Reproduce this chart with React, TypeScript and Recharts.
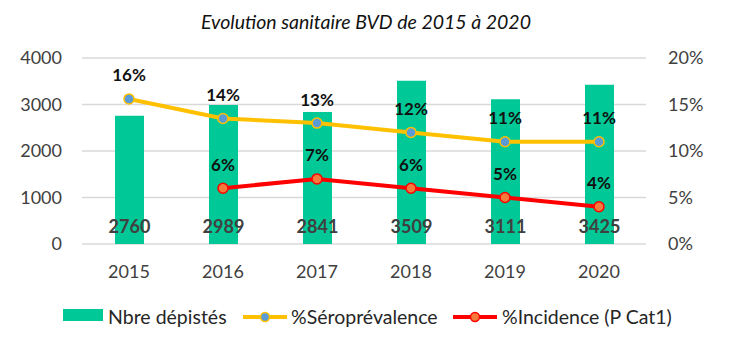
import {
  ComposedChart,
  Bar,
  Line,
  XAxis,
  YAxis,
  CartesianGrid,
  LabelList,
} from "recharts";

const years = ["2015", "2016", "2017", "2018", "2019", "2020"];
const depistes = [2760, 2989, 2841, 3509, 3111, 3425];
const seroprevalence = [15.6, 13.5, 13.0, 12.0, 11.0, 11.0];
const incidence: (number | null)[] = [null, 6.0, 7.0, 6.0, 5.0, 4.0];
const leftTicks = [0, 1000, 2000, 3000, 4000];
const rightTicks = [0, 5, 10, 15, 20];

const FONT = "Lato, 'Open Sans', sans-serif";
const GREEN = "#00C896";
const YELLOW = "#FFC000";
const RED = "#FF0000";

const data = years.map((year, i) => ({
  year,
  depistes: depistes[i],
  sero: seroprevalence[i],
  incidence: incidence[i],
}));

const BarValueLabel = (props: any) => {
  const { x, y, width, height, value } = props;
  return (
    <text
      x={x + width / 2}
      y={y + height - 18}
      textAnchor="middle"
      dominantBaseline="central"
      fontFamily={FONT}
      fontSize={18}
      fontWeight={700}
      fill="#404040"
    >
      {value}
    </text>
  );
};

const PctLabel = (props: any) => {
  const { x, y, value } = props;
  if (value == null) return null;
  return (
    <text
      x={x}
      y={y - 24}
      textAnchor="middle"
      dominantBaseline="central"
      fontFamily={FONT}
      fontSize={17}
      fontWeight={700}
      fill="#111"
    >
      {`${Math.round(value)}%`}
    </text>
  );
};

const LineIcon = ({ color, dot, left }: { color: string; dot: string; left: number }) => (
  <svg width={46} height={14} style={{ position: "absolute", left, top: 10 }}>
    <line x1={0} y1={7} x2={44} y2={7} stroke={color} strokeWidth={4} />
    <circle cx={22} cy={7} r={4.5} fill={dot} stroke={color} strokeWidth={1.5} />
  </svg>
);

export default function App() {
  const tickStyle = { fontFamily: FONT, fontSize: 18, fill: "#404040" };
  const legendText = {
    position: "absolute" as const,
    top: 4,
    fontSize: 19.5,
    color: "#262626",
    whiteSpace: "nowrap" as const,
    lineHeight: "26px",
  };

  return (
    <div
      style={{
        position: "absolute",
        left: 0,
        top: 0,
        width: 730,
        height: 357,
        background: "#fff",
        fontFamily: FONT,
      }}
    >
      <div
        style={{
          position: "absolute",
          left: 0,
          width: 732,
          top: 10,
          textAlign: "center",
          fontStyle: "italic",
          fontSize: 19.5,
          color: "#111",
        }}
      >
        Evolution sanitaire BVD de 2015 à 2020
      </div>

      <ComposedChart
        width={730}
        height={357}
        data={data}
        margin={{ top: 58, right: 14, left: 12, bottom: 83 }}
      >
        <CartesianGrid
          yAxisId="left"
          vertical={false}
          stroke="#D9D9D9"
          strokeWidth={1.5}
        />
        <XAxis
          dataKey="year"
          axisLine={false}
          tickLine={false}
          tickSize={0}
          tickMargin={21}
          height={30}
          tick={tickStyle}
        />
        <YAxis
          yAxisId="left"
          domain={[0, 4000]}
          ticks={leftTicks}
          axisLine={false}
          tickLine={false}
          tickSize={0}
          tickMargin={20}
          width={70}
          tick={tickStyle}
        />
        <YAxis
          yAxisId="right"
          orientation="right"
          domain={[0, 20]}
          ticks={rightTicks}
          tickFormatter={(v: number) => `${v}%`}
          axisLine={false}
          tickLine={false}
          tickSize={0}
          tickMargin={22}
          width={70}
          tick={tickStyle}
        />
        <Bar
          yAxisId="left"
          dataKey="depistes"
          fill={GREEN}
          barSize={29}
          isAnimationActive={false}
        >
          <LabelList dataKey="depistes" content={BarValueLabel} />
        </Bar>
        <Line
          yAxisId="right"
          dataKey="sero"
          stroke={YELLOW}
          strokeWidth={4}
          dot={{ r: 5, fill: "#5B9BD5", stroke: YELLOW, strokeWidth: 1.5 }}
          isAnimationActive={false}
        >
          <LabelList dataKey="sero" content={PctLabel} />
        </Line>
        <Line
          yAxisId="right"
          dataKey="incidence"
          stroke={RED}
          strokeWidth={4}
          dot={{ r: 5, fill: "#F4793B", stroke: RED, strokeWidth: 1.5 }}
          isAnimationActive={false}
        >
          <LabelList dataKey="incidence" content={PctLabel} />
        </Line>
      </ComposedChart>

      <div style={{ position: "absolute", top: 300, left: 0, width: 730, height: 34 }}>
        <span
          style={{
            position: "absolute",
            left: 63,
            top: 9,
            width: 40,
            height: 12,
            background: GREEN,
          }}
        />
        <span style={{ ...legendText, left: 108 }}>Nbre dépistés</span>
        <LineIcon color={YELLOW} dot="#5B9BD5" left={243} />
        <span style={{ ...legendText, left: 291 }}>%Séroprévalence</span>
        <LineIcon color={RED} dot="#F4793B" left={453} />
        <span style={{ ...legendText, left: 502 }}>%Incidence (P Cat1)</span>
      </div>
    </div>
  );
}
